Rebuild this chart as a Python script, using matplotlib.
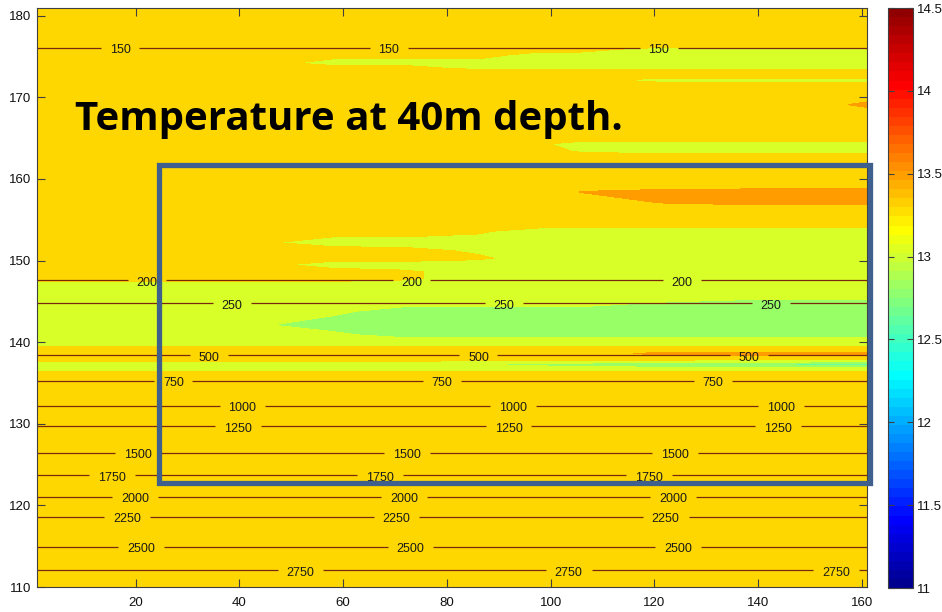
import numpy as np
import matplotlib
matplotlib.use("Agg")
import matplotlib.pyplot as plt
from matplotlib.colors import LinearSegmentedColormap, Normalize
from matplotlib.cm import ScalarMappable
from matplotlib.patches import Rectangle
from matplotlib.ticker import FormatStrFormatter

# ---- temperature at 40 m, read on a coarse grid (degC) ----
grid_x = [1, 44, 58, 72, 86, 98, 106, 121, 140, 155, 161]
G, Y, N, O = 13.3, 13.0, 12.8, 13.52   # gold / yellow-green / green / orange water

grid_y = [181.0, 176.3, 175.9, 175.2, 174.2, 173.6, 173.2, 172.6, 172.1, 171.6,
          169.9, 169.1, 168.3, 164.9, 164.3, 163.4, 162.8, 159.6, 158.4, 157.2,
          156.0, 154.4, 153.6, 152.2, 151.2, 150.3, 149.5, 148.6, 147.8, 147.1,
          145.6, 144.9, 143.8, 142.1, 140.9, 140.2, 139.7, 139.2, 138.6, 138.0,
          137.3, 136.7, 136.1, 110.0]

temp_rows = [
    [G] * 11,
    [G] * 11,
    [G, G, G, G, G, G, G, Y, Y, Y, Y],
    [G, G, G, G, G, Y, Y, Y, Y, Y, Y],
    [G, G, Y, Y, Y, Y, Y, Y, Y, Y, Y],
    [G, G, G, G, Y, Y, Y, Y, Y, Y, Y],
    [G] * 11,
    [G] * 11,
    [G, G, G, G, G, G, G, Y, Y, Y, Y],
    [G] * 11,
    [G] * 11,
    [G, G, G, G, G, G, G, G, G, 13.38, 13.56],
    [G] * 11,
    [G] * 11,
    [G, G, G, G, G, 13.2, Y, Y, Y, Y, Y],
    [G, G, G, G, G, G, 13.1, Y, Y, Y, Y],
    [G] * 11,
    [G] * 11,
    [G, G, G, G, G, G, 13.46, 13.5, O, O, O],
    [G, G, G, G, G, G, G, 13.47, O, O, O],
    [G] * 11,
    [G] * 11,
    [G, G, G, G, 13.2, Y, Y, Y, Y, Y, Y],
    [G, 13.2, Y, Y, Y, Y, Y, Y, Y, Y, Y],
    [G, G, G, 13.25, 13.1, Y, Y, Y, Y, Y, Y],
    [G, G, G, G, 13.2, Y, Y, Y, Y, Y, Y],
    [G, 13.25, Y, Y, Y, Y, Y, Y, Y, Y, Y],
    [G, G, G, 13.2, Y, Y, Y, Y, Y, Y, Y],
    [G, G, G, 13.2, Y, Y, Y, Y, Y, Y, Y],
    [Y] * 11,
    [Y] * 11,
    [Y, Y, Y, Y, Y, Y, Y, 12.9, N, N, N],
    [Y, Y, 12.95, N, N, N, N, N, N, N, N],
    [Y, 12.92, N, N, N, N, N, N, N, N, N],
    [Y, Y, 12.95, N, N, N, N, N, N, N, N],
    [Y] * 11,
    [Y] * 11,
    [G] * 11,
    [G, G, G, G, G, G, 13.35, 13.5, O, O, O],
    [G] * 11,
    [Y, Y, Y, Y, 12.9, 12.85, 12.8, 12.75, 12.7, 12.62, 12.62],
    [Y, Y, Y, Y, Y, Y, Y, Y, Y, 13.0, 13.0],
    [G] * 11,
    [G] * 11,
]

# ---- bathymetry contours (m) and the latitude each one crosses at ----
depth_levels = [150, 200, 250, 500, 750, 1000, 1250, 1500, 1750, 2000, 2250, 2500, 2750]
depth_y = [176.05, 147.6, 144.76, 138.4, 135.3, 132.2, 129.7, 126.46, 123.7,
           121.07, 118.6, 114.94, 112.08]

# x positions of the contour labels, three per level
label_x = {
    150: [17.0, 68.8, 120.9], 200: [22.2, 73.2, 125.3], 250: [38.6, 91.0, 142.5],
    500: [34.2, 86.1, 138.3], 750: [27.3, 79.0, 131.3], 1000: [40.6, 92.7, 144.4],
    1250: [39.8, 91.9, 143.9], 1500: [20.5, 72.4, 124.0], 1750: [15.5, 67.2, 119.0],
    2000: [19.9, 71.8, 123.6], 2250: [18.4, 70.3, 122.2], 2500: [21.1, 73.0, 124.6],
    2750: [51.8, 103.5, 155.0],
}

# study region outline
box_x0, box_x1 = 24.6, 161.5
box_y0, box_y1 = 122.8, 161.65

# MATLAB-style jet
jet_nodes = [(0.0, '#000090'), (0.111, '#0000ff'), (0.365, '#00ffff'),
             (0.619, '#ffff00'), (0.873, '#ff0000'), (1.0, '#900000')]
jet = LinearSegmentedColormap.from_list('mjet', jet_nodes, N=256)
jet64 = LinearSegmentedColormap.from_list('mjet64', jet_nodes, N=64)
norm = Normalize(vmin=11, vmax=14.5)

fig = plt.figure(figsize=(9.42, 6.12), dpi=100)
ax = fig.add_axes([0.0393, 0.0408, 0.8811, 0.9469])
cax = fig.add_axes([0.9427, 0.0392, 0.0265, 0.9477])

# filled temperature field
gy = np.array(grid_y[::-1])
gt = np.array(temp_rows[::-1])
levels = [10.9, 12.55, 12.72, 12.9, 13.15, 13.45, 13.58, 14.6]
ax.contourf(grid_x, gy, gt, levels=levels, cmap=jet, norm=norm)

# depth contours, uniform along x
dy = np.array([110.0] + depth_y[::-1] + [181.0])
dz = np.array([3000] + depth_levels[::-1] + [100], dtype=float)
depth = np.column_stack([dz, dz])
cs = ax.contour([1, 161], dy, depth, levels=depth_levels, colors='#7a2a0c',
                linewidths=0.9)
positions = []
for lev, yy in zip(depth_levels, depth_y):
    for xx in label_x[lev]:
        positions.append((xx, yy))
labels = ax.clabel(cs, manual=positions, fmt='%d', fontsize=9, colors='black',
                   inline=True, inline_spacing=7)
for t in labels:
    t.set_family('Liberation Sans')
    t.set_color('#1a1a1a')
    px, py = t.get_position()
    t.set_position((px, py - 0.3))   # labels sit a little under the line

ax.set_xlim(1, 161)
ax.set_ylim(110, 181)
ax.set_xticks(range(20, 161, 20))
ax.set_yticks(range(110, 181, 10))
ax.tick_params(direction='in', length=6, width=0.8, top=True, right=True,
               labelsize=9.5, colors='#404040', labelcolor='#111111')
ax.tick_params(axis='x', pad=7)
ax.tick_params(axis='y', pad=4)
for sp in ax.spines.values():
    sp.set_color('#404040')
    sp.set_linewidth(0.8)
for lab in ax.get_xticklabels() + ax.get_yticklabels():
    lab.set_family('Liberation Sans')

ax.add_patch(Rectangle((box_x0, box_y0), box_x1 - box_x0, box_y1 - box_y0,
                       fill=False, edgecolor='#3f5f8c', linewidth=3.8,
                       clip_on=False, zorder=5))

ax.text(0.0458, 0.789, 'Temperature at 40m depth.', transform=ax.transAxes,
        fontsize=29, fontweight='bold', family='Open Sans', color='black',
        va='baseline', ha='left', zorder=6)

# colorbar
cb = fig.colorbar(ScalarMappable(norm=norm, cmap=jet64), cax=cax,
                  ticks=np.arange(11, 14.51, 0.5))
cb.ax.yaxis.set_major_formatter(FormatStrFormatter('%g'))
cb.outline.set_edgecolor('#404040')
cb.outline.set_linewidth(0.8)
cax.tick_params(direction='in', length=4, width=0.8, left=True, right=True,
                labelsize=9.5, colors='#404040', labelcolor='#111111', pad=3)
for lab in cax.get_yticklabels():
    lab.set_family('Liberation Sans')

fig.savefig('out.png', dpi=100)
